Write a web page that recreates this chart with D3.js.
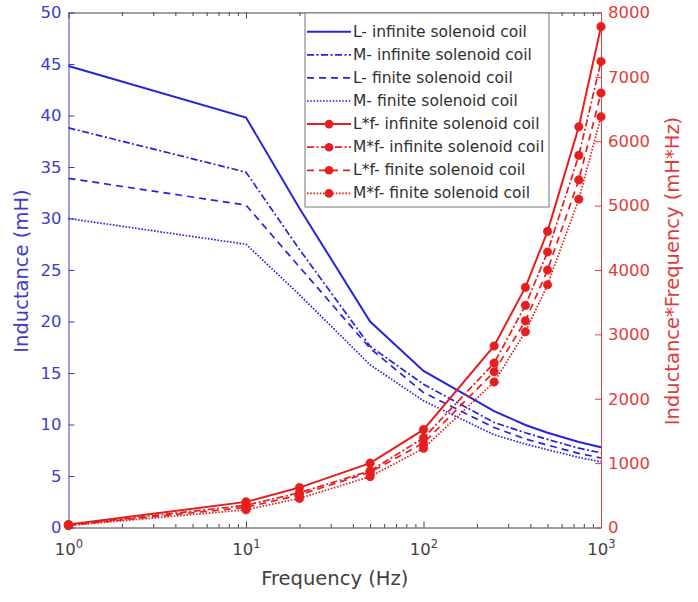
<!DOCTYPE html>
<html><head><meta charset="utf-8">
<script src="https://cdn.jsdelivr.net/npm/d3@7"></script>
<style>
body{margin:0;background:#fff}
svg{display:block}
text{font-family:"DejaVu Sans","Liberation Sans",sans-serif}
</style></head><body>
<svg id="c" width="698" height="602"></svg>
<script>
// ---- data ----
const freq   = [1, 10, 20, 50, 100, 250, 375, 500, 750, 1000];
const L_inf  = [44.8, 39.8, 31.0, 20.0, 15.2, 11.3, 9.95, 9.2, 8.3, 7.8];
const M_inf  = [38.8, 34.5, 27.0, 17.6, 13.9, 10.2, 9.2, 8.55, 7.7, 7.25];
const L_fin  = [33.9, 31.3, 25.3, 17.4, 13.1, 9.7, 8.6, 8.0, 7.2, 6.75];
const M_fin  = [30.0, 27.5, 22.6, 15.8, 12.3, 9.0, 8.1, 7.55, 6.8, 6.38];
const LF_inf = [45, 398, 620, 1000, 1520, 2820, 3730, 4600, 6225, 7780];
const MF_inf = [39, 345, 540, 880, 1390, 2555, 3450, 4280, 5780, 7240];
const LF_fin = [34, 313, 505, 860, 1310, 2420, 3210, 4000, 5400, 6750];
const MF_fin = [30, 275, 452, 790, 1230, 2260, 3040, 3770, 5100, 6380];
const seriesNames = [
  "L- infinite solenoid coil", "M- infinite solenoid coil",
  "L- finite solenoid coil", "M- finite solenoid coil",
  "L*f- infinite solenoid coil", "M*f- infinite solenoid coil",
  "L*f- finite solenoid coil", "M*f- finite solenoid coil"
];
const xMajorTicks = [1, 10, 100, 1000];
const xExponents = ["0", "1", "2", "3"];
const yLeftTicks = [0, 5, 10, 15, 20, 25, 30, 35, 40, 45, 50];
const yRightTicks = [0, 1000, 2000, 3000, 4000, 5000, 6000, 7000, 8000];
const xTitle = "Frequency (Hz)";
const yLeftTitle = "Inductance (mH)";
const yRightTitle = "Inductance*Frequency (mH*Hz)";

// ---- styles ----
const BLUE = "#2424dc", RED = "#e61e1e";
const BLUE_TXT = "#3d3dc6", RED_TXT = "#e03c3c", GRAY = "#404040";
const dashes = [null, "7,2.5,2,2.5", "7,5", "1.6,1.6"];

const svg = d3.select("#c");
const L = 68.5, R = 601, T = 12.5, B = 527.5;
const x = d3.scaleLog().domain([1, 1000]).range([L, R]);
const yL = d3.scaleLinear().domain([0, 50]).range([B, T]);
const yR = d3.scaleLinear().domain([0, 8000]).range([B, T]);

// minor ticks
const minor = [];
for (let d = 1; d <= 100; d *= 10) for (let k = 2; k <= 9; k++) minor.push(d * k);

function styleAxis(g, color) {
  g.selectAll("path.domain").attr("stroke", color).attr("stroke-width", 1);
  g.selectAll(".tick line").attr("stroke", color).attr("stroke-width", 1);
}

// bottom axis
const gxb = svg.append("g").attr("transform", `translate(0,${B})`)
  .call(d3.axisBottom(x).tickValues(xMajorTicks).tickSize(-6).tickSizeOuter(0).tickFormat(() => ""));
styleAxis(gxb, GRAY);
gxb.selectAll(".tick").each(function(d, i) {
  const t = d3.select(this).append("text")
    .attr("y", 27).attr("text-anchor", "middle").attr("fill", GRAY)
    .style("font-size", "16.5px");
  t.append("tspan").text("10");
  t.append("tspan").attr("dy", -7).style("font-size", "11.5px").text(xExponents[i]);
});
const gxbm = svg.append("g").attr("transform", `translate(0,${B})`)
  .call(d3.axisBottom(x).tickValues(minor).tickSize(-3.5).tickSizeOuter(0).tickFormat(() => ""));
gxbm.select("path.domain").remove();
styleAxis(gxbm, GRAY);

// top axis
const gxt = svg.append("g").attr("transform", `translate(0,${T})`)
  .call(d3.axisTop(x).tickValues(xMajorTicks).tickSize(-6).tickSizeOuter(0).tickFormat(() => ""));
styleAxis(gxt, GRAY);
const gxtm = svg.append("g").attr("transform", `translate(0,${T})`)
  .call(d3.axisTop(x).tickValues(minor).tickSize(-3.5).tickSizeOuter(0).tickFormat(() => ""));
gxtm.select("path.domain").remove();
styleAxis(gxtm, GRAY);

// left axis
const gyl = svg.append("g").attr("transform", `translate(${L},0)`)
  .call(d3.axisLeft(yL).tickValues(yLeftTicks).tickSize(-6).tickSizeOuter(0).tickPadding(7).tickFormat(d3.format("d")));
styleAxis(gyl, BLUE_TXT);
gyl.selectAll("text").attr("fill", BLUE_TXT).style("font-size", "16.5px");

// right axis
const gyr = svg.append("g").attr("transform", `translate(${R},0)`)
  .call(d3.axisRight(yR).tickValues(yRightTicks).tickSize(-6).tickSizeOuter(0).tickPadding(7).tickFormat(d3.format("d")));
styleAxis(gyr, RED_TXT);
gyr.selectAll("text").attr("fill", RED_TXT).style("font-size", "16.5px");

// titles
svg.append("text").attr("x", (L + R) / 2).attr("y", 585).attr("text-anchor", "middle")
  .attr("fill", GRAY).style("font-size", "19.5px").text(xTitle);
svg.append("text").attr("transform", `translate(21,${(T + B) / 2 + 1}) rotate(-90)`)
  .attr("text-anchor", "middle").attr("dominant-baseline", "central")
  .attr("fill", BLUE_TXT).style("font-size", "19.5px").text(yLeftTitle);
svg.append("text").attr("transform", `translate(672,${(T + B) / 2 + 1}) rotate(-90)`)
  .attr("text-anchor", "middle").attr("dominant-baseline", "central")
  .attr("fill", RED_TXT).style("font-size", "19.5px").text(yRightTitle);

// lines
const blueSeries = [L_inf, M_inf, L_fin, M_fin];
const redSeries = [LF_inf, MF_inf, LF_fin, MF_fin];
const plot = svg.append("g");
blueSeries.forEach((vals, i) => {
  const line = d3.line().x((d, j) => x(freq[j])).y(d => yL(d));
  plot.append("path").datum(vals).attr("d", line).attr("fill", "none")
    .attr("stroke", BLUE).attr("stroke-width", i === 0 ? 2 : 1.7)
    .attr("stroke-dasharray", dashes[i]);
});
redSeries.forEach((vals, i) => {
  const line = d3.line().x((d, j) => x(freq[j])).y(d => yR(d));
  plot.append("path").datum(vals).attr("d", line).attr("fill", "none")
    .attr("stroke", RED).attr("stroke-width", i === 0 ? 2 : 1.7)
    .attr("stroke-dasharray", dashes[i]);
  plot.selectAll(null).data(vals).enter().append("circle")
    .attr("cx", (d, j) => x(freq[j])).attr("cy", d => yR(d)).attr("r", 4.3)
    .attr("fill", RED).attr("stroke", RED).attr("stroke-width", 0.5);
});

// legend
const lg = svg.append("g");
lg.append("rect").attr("x", 305).attr("y", 13).attr("width", 244).attr("height", 194)
  .attr("fill", "#fff").attr("stroke", "#777").attr("stroke-width", 1);
seriesNames.forEach((name, i) => {
  const yy = 31.7 + i * 23.1;
  const isRed = i >= 4;
  const k = i % 4;
  lg.append("line").attr("x1", 307).attr("x2", 351).attr("y1", yy).attr("y2", yy)
    .attr("stroke", isRed ? RED : BLUE).attr("stroke-width", k === 0 ? 2 : 1.7)
    .attr("stroke-dasharray", dashes[k]);
  if (isRed) lg.append("circle").attr("cx", 329).attr("cy", yy).attr("r", 4.3).attr("fill", RED);
  lg.append("text").attr("x", 353).attr("y", yy).attr("dominant-baseline", "central")
    .attr("fill", "#303030").style("font-size", "15.5px").text(name);
});
</script>
</body></html>
